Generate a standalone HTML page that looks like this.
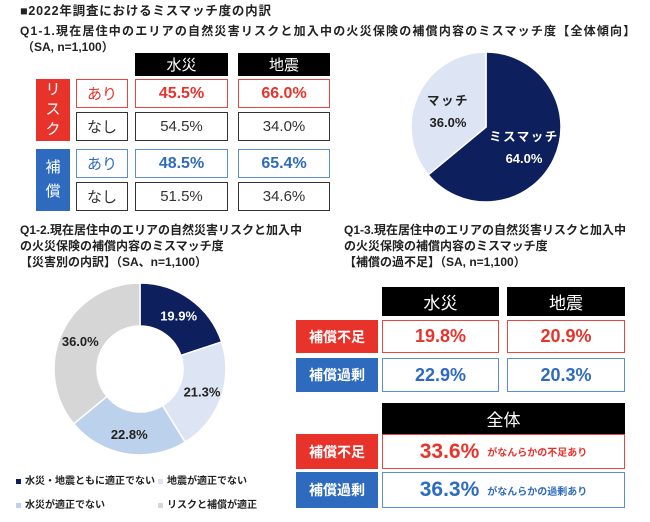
<!DOCTYPE html>
<html><head><meta charset="utf-8">
<style>
body{margin:0;width:650px;height:522px;background:#fff;position:relative;overflow:hidden;font-family:"Liberation Sans","Noto Sans CJK JP",sans-serif;color:#222}
.a{position:absolute;box-sizing:border-box;display:flex;align-items:center;justify-content:center;white-space:nowrap}
.t{position:absolute;font-weight:bold;font-size:12px;white-space:nowrap;line-height:16px}
.hd{background:#000;color:#fff;font-size:15px}
.lab{color:#fff;font-size:15px}
.r{border:1.5px solid #e8473f;color:#e8332b}
.b{border:1.5px solid #5b8fd1;color:#2e6bbf}
.k{border:1.5px solid #333;color:#333;font-size:15px}
.big{font-weight:bold;font-size:16px}
.leg{position:absolute;font-size:10px;font-weight:bold;white-space:nowrap}
.sq{display:inline-block;width:5px;height:5px;margin-right:4px;vertical-align:middle}
</style></head><body>
<div class="t" style="left:20px;top:3px;font-size:12.5px;letter-spacing:0.8px">■2022年調査におけるミスマッチ度の内訳</div>
<div class="t" style="left:20px;top:23px;letter-spacing:1.2px">Q1-1.現在居住中のエリアの自然災害リスクと加入中の火災保険の補償内容のミスマッチ度【全体傾向】</div>
<div class="t" style="left:22px;top:39px">（SA, n=1,100）</div>

<div class="a hd" style="left:135px;top:53px;width:93px;height:23px">水災</div>
<div class="a hd" style="left:238px;top:53px;width:92px;height:23px">地震</div>
<div class="a lab" style="left:36px;top:79px;width:34px;height:62px;background:#e8332b;flex-direction:column;line-height:20px">リ<br>ス<br>ク</div>
<div class="a lab" style="left:36px;top:149px;width:34px;height:62px;background:#2e6bbf;flex-direction:column;line-height:24px">補<br>償</div>
<div class="a r" style="left:76px;top:79px;width:52px;height:29px;font-size:15px">あり</div>
<div class="a k" style="left:76px;top:112px;width:52px;height:29px">なし</div>
<div class="a b" style="left:76px;top:149px;width:52px;height:29px;font-size:15px">あり</div>
<div class="a k" style="left:76px;top:182px;width:52px;height:29px">なし</div>
<div class="a r big" style="left:135px;top:79px;width:93px;height:29px">45.5%</div>
<div class="a r big" style="left:238px;top:79px;width:92px;height:29px">66.0%</div>
<div class="a k" style="left:135px;top:112px;width:93px;height:29px">54.5%</div>
<div class="a k" style="left:238px;top:112px;width:92px;height:29px">34.0%</div>
<div class="a b big" style="left:135px;top:149px;width:93px;height:29px">48.5%</div>
<div class="a b big" style="left:238px;top:149px;width:92px;height:29px">65.4%</div>
<div class="a k" style="left:135px;top:182px;width:93px;height:29px">51.5%</div>
<div class="a k" style="left:238px;top:182px;width:92px;height:29px">34.6%</div>

<svg id="pie" style="position:absolute;left:0;top:0" width="650" height="522"></svg>

<div class="t" style="left:20px;top:222px;line-height:16px">Q1-2.現在居住中のエリアの自然災害リスクと加入中<br>の火災保険の補償内容のミスマッチ度<br>【災害別の内訳】（SA、n=1,100）</div>
<div class="t" style="left:344px;top:222px;line-height:16px">Q1-3.現在居住中のエリアの自然災害リスクと加入中<br>の火災保険の補償内容のミスマッチ度<br>【補償の過不足】（SA, n=1,100）</div>

<div class="leg" style="left:16px;top:472px"><span class="sq" style="background:#0a1f5c"></span>水災・地震ともに適正でない</div>
<div class="leg" style="left:158px;top:472px"><span class="sq" style="background:#dde4f3"></span>地震が適正でない</div>
<div class="leg" style="left:16px;top:496px"><span class="sq" style="background:#bcd2ec"></span>水災が適正でない</div>
<div class="leg" style="left:158px;top:496px"><span class="sq" style="background:#d6d6d6"></span>リスクと補償が適正</div>

<div class="a hd" style="left:382px;top:287px;width:117px;height:29px;font-size:17px">水災</div>
<div class="a hd" style="left:507px;top:287px;width:118px;height:29px;font-size:17px">地震</div>
<div class="a lab" style="left:296px;top:320px;width:82px;height:33px;background:#e8332b;font-weight:bold;font-size:14px">補償不足</div>
<div class="a lab" style="left:296px;top:358px;width:82px;height:34px;background:#2e6bbf;font-weight:bold;font-size:14px">補償過剰</div>
<div class="a r big" style="left:382px;top:320px;width:117px;height:33px;font-size:18px">19.8%</div>
<div class="a r big" style="left:507px;top:320px;width:118px;height:33px;font-size:18px">20.9%</div>
<div class="a b big" style="left:382px;top:358px;width:117px;height:34px;font-size:18px">22.9%</div>
<div class="a b big" style="left:507px;top:358px;width:118px;height:34px;font-size:18px">20.3%</div>
<div class="a hd" style="left:382px;top:403px;width:243px;height:31px;font-size:17px">全体</div>
<div class="a lab" style="left:296px;top:434px;width:82px;height:35px;background:#e8332b;font-weight:bold;font-size:14px">補償不足</div>
<div class="a lab" style="left:296px;top:472px;width:82px;height:36px;background:#2e6bbf;font-weight:bold;font-size:14px">補償過剰</div>
<div class="a r" style="left:382px;top:434px;width:243px;height:35px"><span style="font-weight:bold;font-size:21px">33.6%</span><span style="font-weight:bold;font-size:10px;margin-left:8px">がなんらかの不足あり</span></div>
<div class="a b" style="left:382px;top:472px;width:243px;height:36px"><span style="font-weight:bold;font-size:21px">36.3%</span><span style="font-weight:bold;font-size:10px;margin-left:8px">がなんらかの過剰あり</span></div>

<script>
const pieLabels=["ミスマッチ","マッチ"];
const pieValues=[64.0,36.0];
const pieColors=["#0d1f5c","#dde4f3"];
const donutLabels=["水災・地震ともに適正でない","地震が適正でない","水災が適正でない","リスクと補償が適正"];
const donutValues=[19.9,21.3,22.8,36.0];
const donutColors=["#0d1f5c","#dde4f3","#bcd2ec","#d6d6d6"];
const NS="http://www.w3.org/2000/svg";
const svg=document.getElementById('pie');
function pt(cx,cy,r,f){const a=f*2*Math.PI;return [cx+r*Math.sin(a),cy-r*Math.cos(a)];}
function txt(x,y,s,col,size,name,ls){const t=document.createElementNS(NS,'text');t.setAttribute('x',x);t.setAttribute('y',y);t.setAttribute('text-anchor','middle');t.setAttribute('font-size',size);t.setAttribute('font-weight','bold');t.setAttribute('fill',col);if(ls)t.setAttribute('letter-spacing',ls);t.setAttribute('font-family','"Liberation Sans","Noto Sans CJK JP",sans-serif');t.textContent=s;


svg.appendChild(t);}
function draw(cx,cy,R,r0,vals,cols,nameBase){const tot=vals.reduce((a,b)=>a+b,0);let c=0;const mids=[];
vals.forEach((v,i)=>{const f0=c/tot,f1=(c+v)/tot;c+=v;const [x0,y0]=pt(cx,cy,R,f0),[x1,y1]=pt(cx,cy,R,f1);const lg=(f1-f0)>0.5?1:0;let d;
if(r0>0){const [a0,b0]=pt(cx,cy,r0,f1),[a1,b1]=pt(cx,cy,r0,f0);d=`M${x0},${y0}A${R},${R} 0 ${lg} 1 ${x1},${y1}L${a0},${b0}A${r0},${r0} 0 ${lg} 0 ${a1},${b1}Z`;}
else d=`M${cx},${cy}L${x0},${y0}A${R},${R} 0 ${lg} 1 ${x1},${y1}Z`;
const p=document.createElementNS(NS,'path');p.setAttribute('d',d);p.setAttribute('fill',cols[i]);p.setAttribute('stroke','#fff');p.setAttribute('stroke-width','1.5');


svg.appendChild(p);mids.push((f0+f1)/2);});return mids;}
const m1=draw(486,127,75,0,pieValues,pieColors,'pie');
m1.forEach((f,i)=>{const [x,y]=pt(486,127,42,f);const col=i==0?'#fff':'#222';txt(x,y-4,pieLabels[i],col,12.5,'pie-label-'+i,'1.5');txt(x,y+18,pieValues[i].toFixed(1)+'%',col,13,'pie-value-'+i);});
const m2=draw(140,369,86,43,donutValues,donutColors,'donut');
m2.forEach((f,i)=>{const [x,y]=pt(140,369,66,f);txt(x,y+5,donutValues[i].toFixed(1)+'%',i==0?'#fff':'#222',13,'donut-value-'+i);});
</script>
</body></html>
